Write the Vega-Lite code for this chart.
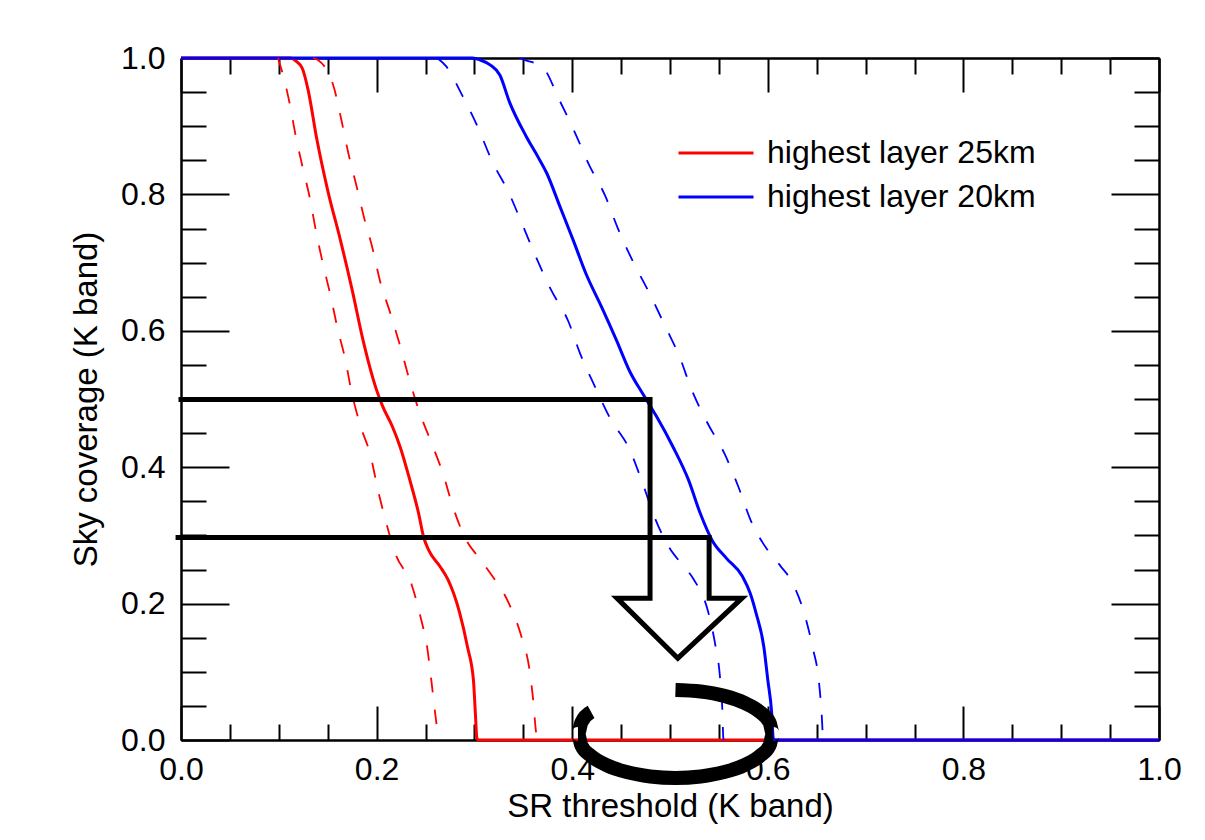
{
  "$schema": "https://vega.github.io/schema/vega-lite/v6.json",
  "width": 978,
  "height": 682,
  "autosize": {"type": "none"},
  "padding": {"left": 181, "top": 58, "right": 46, "bottom": 100},
  "background": "white",
  "config": {
    "view": {"stroke": null},
    "font": "Liberation Sans",
    "axis": {
      "domainColor": "black", "domainWidth": 2, "tickColor": "black", "tickWidth": 2,
      "labelColor": "black", "titleColor": "black", "labelFont": "Liberation Sans", "titleFont": "Liberation Sans",
      "labelFontSize": 32, "titleFontSize": 33, "titleFontWeight": "normal", "grid": false,
      "labelFlush": false, "labelOverlap": false
    }
  },
  "datasets": {
    "solid": [
      {"series": "highest layer 25km", "x": 0, "y": 1},
      {"series": "highest layer 25km", "x": 0.112, "y": 1},
      {"series": "highest layer 25km", "x": 0.118, "y": 0.995},
      {"series": "highest layer 25km", "x": 0.124, "y": 0.985},
      {"series": "highest layer 25km", "x": 0.130, "y": 0.953},
      {"series": "highest layer 25km", "x": 0.139, "y": 0.880},
      {"series": "highest layer 25km", "x": 0.150, "y": 0.806},
      {"series": "highest layer 25km", "x": 0.163, "y": 0.733},
      {"series": "highest layer 25km", "x": 0.175, "y": 0.660},
      {"series": "highest layer 25km", "x": 0.186, "y": 0.587},
      {"series": "highest layer 25km", "x": 0.200, "y": 0.513},
      {"series": "highest layer 25km", "x": 0.206, "y": 0.490},
      {"series": "highest layer 25km", "x": 0.216, "y": 0.460},
      {"series": "highest layer 25km", "x": 0.224, "y": 0.430},
      {"series": "highest layer 25km", "x": 0.234, "y": 0.381},
      {"series": "highest layer 25km", "x": 0.243, "y": 0.332},
      {"series": "highest layer 25km", "x": 0.248, "y": 0.298},
      {"series": "highest layer 25km", "x": 0.253, "y": 0.279},
      {"series": "highest layer 25km", "x": 0.265, "y": 0.254},
      {"series": "highest layer 25km", "x": 0.273, "y": 0.235},
      {"series": "highest layer 25km", "x": 0.285, "y": 0.186},
      {"series": "highest layer 25km", "x": 0.293, "y": 0.136},
      {"series": "highest layer 25km", "x": 0.299, "y": 0.088},
      {"series": "highest layer 25km", "x": 0.301, "y": 0.039},
      {"series": "highest layer 25km", "x": 0.3025, "y": 0.003},
      {"series": "highest layer 25km", "x": 0.304, "y": 0},
      {"series": "highest layer 25km", "x": 1, "y": 0},
      {"series": "highest layer 20km", "x": 0, "y": 1},
      {"series": "highest layer 20km", "x": 0.298, "y": 1},
      {"series": "highest layer 20km", "x": 0.306, "y": 0.997},
      {"series": "highest layer 20km", "x": 0.316, "y": 0.990},
      {"series": "highest layer 20km", "x": 0.326, "y": 0.975},
      {"series": "highest layer 20km", "x": 0.336, "y": 0.935},
      {"series": "highest layer 20km", "x": 0.353, "y": 0.885},
      {"series": "highest layer 20km", "x": 0.365, "y": 0.855},
      {"series": "highest layer 20km", "x": 0.374, "y": 0.831},
      {"series": "highest layer 20km", "x": 0.3875, "y": 0.782},
      {"series": "highest layer 20km", "x": 0.401, "y": 0.733},
      {"series": "highest layer 20km", "x": 0.414, "y": 0.684},
      {"series": "highest layer 20km", "x": 0.430, "y": 0.635},
      {"series": "highest layer 20km", "x": 0.445, "y": 0.587},
      {"series": "highest layer 20km", "x": 0.459, "y": 0.540},
      {"series": "highest layer 20km", "x": 0.472, "y": 0.508},
      {"series": "highest layer 20km", "x": 0.486, "y": 0.475},
      {"series": "highest layer 20km", "x": 0.503, "y": 0.430},
      {"series": "highest layer 20km", "x": 0.519, "y": 0.381},
      {"series": "highest layer 20km", "x": 0.531, "y": 0.332},
      {"series": "highest layer 20km", "x": 0.543, "y": 0.293},
      {"series": "highest layer 20km", "x": 0.558, "y": 0.266},
      {"series": "highest layer 20km", "x": 0.574, "y": 0.240},
      {"series": "highest layer 20km", "x": 0.582, "y": 0.215},
      {"series": "highest layer 20km", "x": 0.588, "y": 0.186},
      {"series": "highest layer 20km", "x": 0.596, "y": 0.136},
      {"series": "highest layer 20km", "x": 0.600, "y": 0.088},
      {"series": "highest layer 20km", "x": 0.604, "y": 0.039},
      {"series": "highest layer 20km", "x": 0.6055, "y": 0.003},
      {"series": "highest layer 20km", "x": 0.607, "y": 0},
      {"series": "highest layer 20km", "x": 1, "y": 0}
    ],
    "dashed": [
      {"series": "highest layer 25km", "curve": "r-lo", "x": 0.099, "y": 1},
      {"series": "highest layer 25km", "curve": "r-lo", "x": 0.103, "y": 0.982},
      {"series": "highest layer 25km", "curve": "r-lo", "x": 0.111, "y": 0.934},
      {"series": "highest layer 25km", "curve": "r-lo", "x": 0.117, "y": 0.888},
      {"series": "highest layer 25km", "curve": "r-lo", "x": 0.124, "y": 0.842},
      {"series": "highest layer 25km", "curve": "r-lo", "x": 0.132, "y": 0.793},
      {"series": "highest layer 25km", "curve": "r-lo", "x": 0.138, "y": 0.746},
      {"series": "highest layer 25km", "curve": "r-lo", "x": 0.145, "y": 0.699},
      {"series": "highest layer 25km", "curve": "r-lo", "x": 0.153, "y": 0.651},
      {"series": "highest layer 25km", "curve": "r-lo", "x": 0.160, "y": 0.604},
      {"series": "highest layer 25km", "curve": "r-lo", "x": 0.168, "y": 0.558},
      {"series": "highest layer 25km", "curve": "r-lo", "x": 0.174, "y": 0.513},
      {"series": "highest layer 25km", "curve": "r-lo", "x": 0.183, "y": 0.463},
      {"series": "highest layer 25km", "curve": "r-lo", "x": 0.194, "y": 0.416},
      {"series": "highest layer 25km", "curve": "r-lo", "x": 0.201, "y": 0.369},
      {"series": "highest layer 25km", "curve": "r-lo", "x": 0.209, "y": 0.323},
      {"series": "highest layer 25km", "curve": "r-lo", "x": 0.219, "y": 0.274},
      {"series": "highest layer 25km", "curve": "r-lo", "x": 0.236, "y": 0.227},
      {"series": "highest layer 25km", "curve": "r-lo", "x": 0.245, "y": 0.180},
      {"series": "highest layer 25km", "curve": "r-lo", "x": 0.252, "y": 0.133},
      {"series": "highest layer 25km", "curve": "r-lo", "x": 0.256, "y": 0.087},
      {"series": "highest layer 25km", "curve": "r-lo", "x": 0.260, "y": 0.038},
      {"series": "highest layer 25km", "curve": "r-lo", "x": 0.2635, "y": 0.003},
      {"series": "highest layer 25km", "curve": "r-lo", "x": 0.265, "y": 0},
      {"series": "highest layer 25km", "curve": "r-hi", "x": 0.135, "y": 1},
      {"series": "highest layer 25km", "curve": "r-hi", "x": 0.140, "y": 0.997},
      {"series": "highest layer 25km", "curve": "r-hi", "x": 0.1565, "y": 0.956},
      {"series": "highest layer 25km", "curve": "r-hi", "x": 0.164, "y": 0.909},
      {"series": "highest layer 25km", "curve": "r-hi", "x": 0.171, "y": 0.861},
      {"series": "highest layer 25km", "curve": "r-hi", "x": 0.179, "y": 0.815},
      {"series": "highest layer 25km", "curve": "r-hi", "x": 0.187, "y": 0.767},
      {"series": "highest layer 25km", "curve": "r-hi", "x": 0.196, "y": 0.720},
      {"series": "highest layer 25km", "curve": "r-hi", "x": 0.2035, "y": 0.673},
      {"series": "highest layer 25km", "curve": "r-hi", "x": 0.214, "y": 0.626},
      {"series": "highest layer 25km", "curve": "r-hi", "x": 0.224, "y": 0.578},
      {"series": "highest layer 25km", "curve": "r-hi", "x": 0.233, "y": 0.531},
      {"series": "highest layer 25km", "curve": "r-hi", "x": 0.243, "y": 0.484},
      {"series": "highest layer 25km", "curve": "r-hi", "x": 0.256, "y": 0.436},
      {"series": "highest layer 25km", "curve": "r-hi", "x": 0.268, "y": 0.390},
      {"series": "highest layer 25km", "curve": "r-hi", "x": 0.278, "y": 0.342},
      {"series": "highest layer 25km", "curve": "r-hi", "x": 0.291, "y": 0.295},
      {"series": "highest layer 25km", "curve": "r-hi", "x": 0.303, "y": 0.270},
      {"series": "highest layer 25km", "curve": "r-hi", "x": 0.315, "y": 0.247},
      {"series": "highest layer 25km", "curve": "r-hi", "x": 0.335, "y": 0.201},
      {"series": "highest layer 25km", "curve": "r-hi", "x": 0.348, "y": 0.152},
      {"series": "highest layer 25km", "curve": "r-hi", "x": 0.356, "y": 0.106},
      {"series": "highest layer 25km", "curve": "r-hi", "x": 0.360, "y": 0.060},
      {"series": "highest layer 25km", "curve": "r-hi", "x": 0.363, "y": 0.012},
      {"series": "highest layer 25km", "curve": "r-hi", "x": 0.3645, "y": 0},
      {"series": "highest layer 20km", "curve": "b-lo", "x": 0.262, "y": 1},
      {"series": "highest layer 20km", "curve": "b-lo", "x": 0.271, "y": 0.988},
      {"series": "highest layer 20km", "curve": "b-lo", "x": 0.288, "y": 0.944},
      {"series": "highest layer 20km", "curve": "b-lo", "x": 0.304, "y": 0.897},
      {"series": "highest layer 20km", "curve": "b-lo", "x": 0.318, "y": 0.849},
      {"series": "highest layer 20km", "curve": "b-lo", "x": 0.335, "y": 0.803},
      {"series": "highest layer 20km", "curve": "b-lo", "x": 0.349, "y": 0.756},
      {"series": "highest layer 20km", "curve": "b-lo", "x": 0.363, "y": 0.708},
      {"series": "highest layer 20km", "curve": "b-lo", "x": 0.378, "y": 0.661},
      {"series": "highest layer 20km", "curve": "b-lo", "x": 0.396, "y": 0.614},
      {"series": "highest layer 20km", "curve": "b-lo", "x": 0.408, "y": 0.567},
      {"series": "highest layer 20km", "curve": "b-lo", "x": 0.423, "y": 0.519},
      {"series": "highest layer 20km", "curve": "b-lo", "x": 0.4387, "y": 0.472},
      {"series": "highest layer 20km", "curve": "b-lo", "x": 0.459, "y": 0.425},
      {"series": "highest layer 20km", "curve": "b-lo", "x": 0.4714, "y": 0.379},
      {"series": "highest layer 20km", "curve": "b-lo", "x": 0.4847, "y": 0.325},
      {"series": "highest layer 20km", "curve": "b-lo", "x": 0.4993, "y": 0.282},
      {"series": "highest layer 20km", "curve": "b-lo", "x": 0.512, "y": 0.258},
      {"series": "highest layer 20km", "curve": "b-lo", "x": 0.524, "y": 0.236},
      {"series": "highest layer 20km", "curve": "b-lo", "x": 0.539, "y": 0.188},
      {"series": "highest layer 20km", "curve": "b-lo", "x": 0.546, "y": 0.142},
      {"series": "highest layer 20km", "curve": "b-lo", "x": 0.551, "y": 0.094},
      {"series": "highest layer 20km", "curve": "b-lo", "x": 0.5535, "y": 0.045},
      {"series": "highest layer 20km", "curve": "b-lo", "x": 0.5545, "y": 0.003},
      {"series": "highest layer 20km", "curve": "b-lo", "x": 0.555, "y": 0},
      {"series": "highest layer 20km", "curve": "b-hi", "x": 0.346, "y": 1},
      {"series": "highest layer 20km", "curve": "b-hi", "x": 0.352, "y": 0.997},
      {"series": "highest layer 20km", "curve": "b-hi", "x": 0.370, "y": 0.986},
      {"series": "highest layer 20km", "curve": "b-hi", "x": 0.387, "y": 0.938},
      {"series": "highest layer 20km", "curve": "b-hi", "x": 0.403, "y": 0.890},
      {"series": "highest layer 20km", "curve": "b-hi", "x": 0.417, "y": 0.844},
      {"series": "highest layer 20km", "curve": "b-hi", "x": 0.434, "y": 0.797},
      {"series": "highest layer 20km", "curve": "b-hi", "x": 0.447, "y": 0.749},
      {"series": "highest layer 20km", "curve": "b-hi", "x": 0.462, "y": 0.702},
      {"series": "highest layer 20km", "curve": "b-hi", "x": 0.479, "y": 0.655},
      {"series": "highest layer 20km", "curve": "b-hi", "x": 0.495, "y": 0.607},
      {"series": "highest layer 20km", "curve": "b-hi", "x": 0.510, "y": 0.561},
      {"series": "highest layer 20km", "curve": "b-hi", "x": 0.522, "y": 0.514},
      {"series": "highest layer 20km", "curve": "b-hi", "x": 0.5375, "y": 0.467},
      {"series": "highest layer 20km", "curve": "b-hi", "x": 0.556, "y": 0.419},
      {"series": "highest layer 20km", "curve": "b-hi", "x": 0.570, "y": 0.371},
      {"series": "highest layer 20km", "curve": "b-hi", "x": 0.582, "y": 0.324},
      {"series": "highest layer 20km", "curve": "b-hi", "x": 0.600, "y": 0.278},
      {"series": "highest layer 20km", "curve": "b-hi", "x": 0.613, "y": 0.255},
      {"series": "highest layer 20km", "curve": "b-hi", "x": 0.625, "y": 0.231},
      {"series": "highest layer 20km", "curve": "b-hi", "x": 0.638, "y": 0.182},
      {"series": "highest layer 20km", "curve": "b-hi", "x": 0.646, "y": 0.135},
      {"series": "highest layer 20km", "curve": "b-hi", "x": 0.652, "y": 0.089},
      {"series": "highest layer 20km", "curve": "b-hi", "x": 0.655, "y": 0.040},
      {"series": "highest layer 20km", "curve": "b-hi", "x": 0.6565, "y": 0.003},
      {"series": "highest layer 20km", "curve": "b-hi", "x": 0.657, "y": 0}
    ],
    "arrow": [
      {"k": 1, "x": 0, "y": 0.4993},
      {"k": 2, "x": 0.4796, "y": 0.4993},
      {"k": 3, "x": 0.4796, "y": 0.208},
      {"k": 4, "x": 0.4458, "y": 0.208},
      {"k": 5, "x": 0.508, "y": 0.120},
      {"k": 6, "x": 0.5736, "y": 0.208},
      {"k": 7, "x": 0.540, "y": 0.208},
      {"k": 8, "x": 0.540, "y": 0.2969},
      {"k": 9, "x": -0.003, "y": 0.2969}
    ],
    "ring": [
      {"k": 1, "x": 0.5056, "y": 0.0733},
      {"k": 2, "x": 0.5314, "y": 0.0711},
      {"k": 3, "x": 0.5555, "y": 0.0647},
      {"k": 4, "x": 0.5761, "y": 0.0544},
      {"k": 5, "x": 0.5919, "y": 0.0411},
      {"k": 6, "x": 0.6019, "y": 0.0255},
      {"k": 7, "x": 0.6053, "y": 0.0088},
      {"k": 8, "x": 0.6019, "y": -0.0079},
      {"k": 9, "x": 0.5919, "y": -0.0235},
      {"k": 10, "x": 0.5761, "y": -0.0368},
      {"k": 11, "x": 0.5555, "y": -0.0471},
      {"k": 12, "x": 0.5314, "y": -0.0535},
      {"k": 13, "x": 0.5056, "y": -0.0557},
      {"k": 14, "x": 0.4798, "y": -0.0535},
      {"k": 15, "x": 0.4557, "y": -0.0471},
      {"k": 16, "x": 0.4351, "y": -0.0368},
      {"k": 17, "x": 0.4193, "y": -0.0235},
      {"k": 18, "x": 0.4093, "y": -0.0079},
      {"k": 19, "x": 0.4059, "y": 0.0088},
      {"k": 20, "x": 0.4093, "y": 0.0255},
      {"k": 21, "x": 0.4193, "y": 0.0411}
    ]
  },
  "resolve": {"axis": {"x": "independent", "y": "independent"}},
  "layer": [
    {
      "data": {"name": "solid"},
      "mark": {"type": "line", "strokeWidth": 3, "interpolate": "monotone"},
      "encoding": {
        "x": {"field": "x", "type": "quantitative", "scale": {"domain": [0, 1], "nice": false, "zero": false},
          "axis": {"orient": "bottom", "values": [0, 0.2, 0.4, 0.6, 0.8, 1], "format": ".1f", "tickSize": -34, "labelPadding": 48, "title": "SR threshold (K band)", "titlePadding": 5}},
        "y": {"field": "y", "type": "quantitative", "scale": {"domain": [0, 1], "nice": false, "zero": false},
          "axis": {"orient": "left", "values": [0, 0.2, 0.4, 0.6, 0.8, 1], "format": ".1f", "tickSize": -48, "labelPadding": 64, "title": "Sky coverage (K band)", "titlePadding": 17}},
        "color": {"field": "series", "type": "nominal", "scale": {"domain": ["highest layer 25km", "highest layer 20km"], "range": ["#ff0000", "#0000ff"]},
          "legend": {"orient": "none", "legendX": 519, "legendY": 79, "title": null, "padding": 0, "symbolType": "M-3,0H3", "symbolSize": 625, "symbolStrokeWidth": 3, "labelFont": "Liberation Sans", "labelFontSize": 32, "labelColor": "black", "labelOffset": 35, "rowPadding": 12, "labelLimit": 400}}
      }
    },
    {
      "data": {"name": "dashed"},
      "mark": {"type": "line", "strokeWidth": 1.8, "strokeDash": [15, 17], "interpolate": "monotone"},
      "encoding": {
        "x": {"field": "x", "type": "quantitative", "scale": {"domain": [0, 1], "nice": false, "zero": false},
          "axis": {"orient": "bottom", "values": [0.05,0.1,0.15,0.25,0.3,0.35,0.45,0.5,0.55,0.65,0.7,0.75,0.85,0.9,0.95], "tickSize": -16, "labels": false, "title": null}},
        "y": {"field": "y", "type": "quantitative", "scale": {"domain": [0, 1], "nice": false, "zero": false},
          "axis": {"orient": "left", "values": [0.05,0.1,0.15,0.25,0.3,0.35,0.45,0.5,0.55,0.65,0.7,0.75,0.85,0.9,0.95], "tickSize": -25, "labels": false, "title": null}},
        "color": {"field": "series", "type": "nominal", "scale": {"domain": ["highest layer 25km", "highest layer 20km"], "range": ["#ff0000", "#0000ff"]}, "legend": null},
        "detail": {"field": "curve"}
      }
    },
    {
      "data": {"name": "arrow"},
      "mark": {"type": "line", "color": "black", "strokeWidth": 5, "strokeJoin": "miter", "strokeCap": "square"},
      "encoding": {
        "x": {"field": "x", "type": "quantitative", "scale": {"domain": [0, 1], "nice": false, "zero": false},
          "axis": {"orient": "top", "values": [0, 0.2, 0.4, 0.6, 0.8, 1], "tickSize": -34, "labels": false, "title": null}},
        "y": {"field": "y", "type": "quantitative", "scale": {"domain": [0, 1], "nice": false, "zero": false},
          "axis": {"orient": "right", "values": [0, 0.2, 0.4, 0.6, 0.8, 1], "tickSize": -48, "labels": false, "title": null}},
        "order": {"field": "k", "type": "quantitative"}
      }
    },
    {
      "data": {"name": "ring"},
      "mark": {"type": "line", "color": "black", "strokeWidth": 14, "strokeCap": "butt", "interpolate": "monotone"},
      "encoding": {
        "x": {"field": "x", "type": "quantitative", "scale": {"domain": [0, 1], "nice": false, "zero": false},
          "axis": {"orient": "top", "values": [0.05,0.1,0.15,0.25,0.3,0.35,0.45,0.5,0.55,0.65,0.7,0.75,0.85,0.9,0.95], "tickSize": -16, "labels": false, "title": null}},
        "y": {"field": "y", "type": "quantitative", "scale": {"domain": [0, 1], "nice": false, "zero": false},
          "axis": {"orient": "right", "values": [0.05,0.1,0.15,0.25,0.3,0.35,0.45,0.5,0.55,0.65,0.7,0.75,0.85,0.9,0.95], "tickSize": -25, "labels": false, "title": null}},
        "order": {"field": "k", "type": "quantitative"}
      }
    }
  ]
}
